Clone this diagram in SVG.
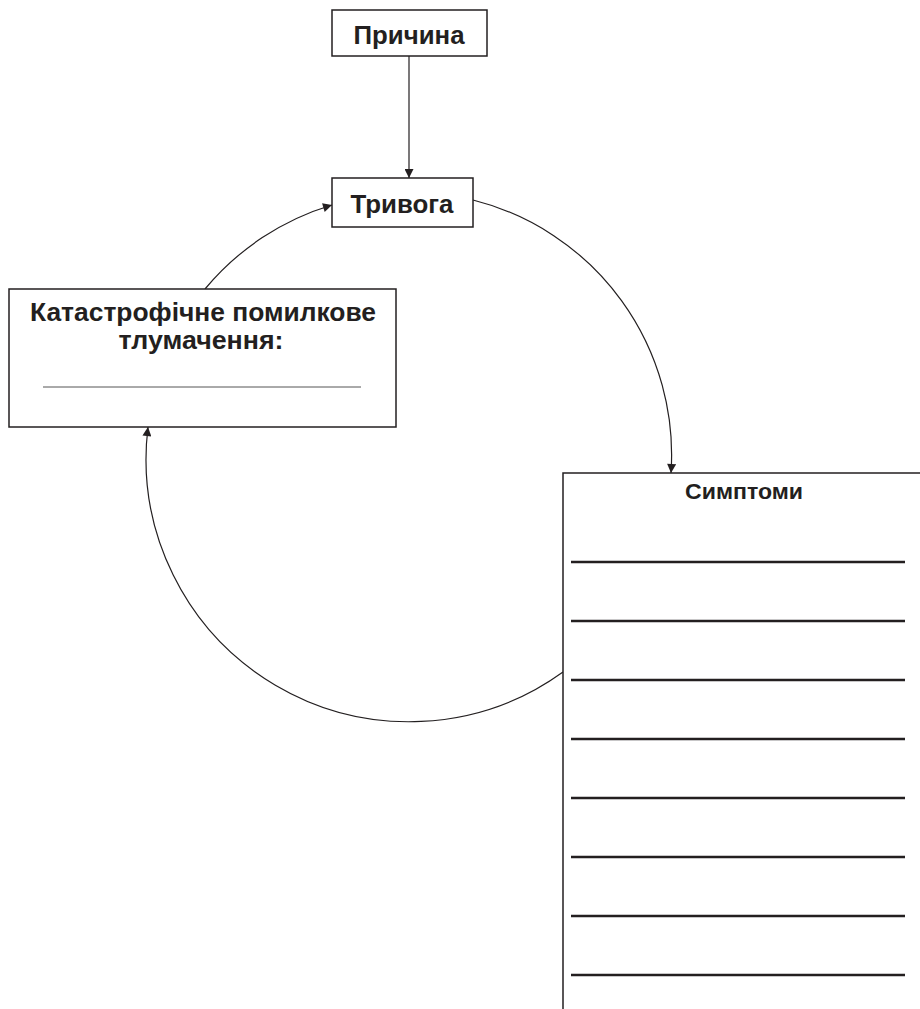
<svg xmlns="http://www.w3.org/2000/svg" width="920" height="1009" viewBox="0 0 920 1009">
<style>
.box{fill:#fff;stroke:#231f20;stroke-width:1.5}
.t{font-family:"Liberation Sans",Arial,sans-serif;font-weight:bold;fill:#231f20;text-anchor:middle}
.c{fill:none;stroke:#231f20;stroke-width:1.2}
.ln{stroke:#231f20;stroke-width:2.6}
</style>
<defs>
<marker id="ah" viewBox="0 0 10 10" refX="10" refY="5" markerWidth="11" markerHeight="9" markerUnits="userSpaceOnUse" orient="auto">
<path d="M0,0 L10,5 L0,10 Z" fill="#231f20"/>
</marker>
</defs>
<rect width="920" height="1009" fill="#fff"/>
<g id="connectors">
<line class="c" x1="409" y1="56" x2="409" y2="178" marker-end="url(#ah)"/>
<path class="c" d="M473,200 A263,263 0 0 1 671,473" marker-end="url(#ah)"/>
<path class="c" d="M563,672 A263,263 0 0 1 148,427" marker-end="url(#ah)"/>
<path class="c" d="M205,289 A263,263 0 0 1 332,205" marker-end="url(#ah)"/>
</g>
<g id="prychyna">
<rect class="box" x="332" y="10" width="155" height="46"/>
<text class="t" x="409" y="44" font-size="25" textLength="111" lengthAdjust="spacingAndGlyphs">Причина</text>
</g>
<g id="tryvoga">
<rect class="box" x="332" y="178" width="141" height="49"/>
<text class="t" x="402" y="213" font-size="25" textLength="103" lengthAdjust="spacingAndGlyphs">Тривога</text>
</g>
<g id="interpretation">
<rect class="box" x="9" y="289" width="387" height="138"/>
<text class="t" x="203" y="321" font-size="25" textLength="346" lengthAdjust="spacingAndGlyphs">Катастрофічне помилкове</text>
<text class="t" x="201" y="349" font-size="25" textLength="165" lengthAdjust="spacingAndGlyphs">тлумачення:</text>
<line x1="43" y1="387" x2="361" y2="387" stroke="#555" stroke-width="1"/>
</g>
<g id="symptoms">
<rect class="box" x="563" y="473" width="370" height="550"/>
<text class="t" x="744" y="499" font-size="22" textLength="118" lengthAdjust="spacingAndGlyphs">Симптоми</text>
<line class="ln" x1="571" y1="562" x2="905" y2="562"/>
<line class="ln" x1="571" y1="621" x2="905" y2="621"/>
<line class="ln" x1="571" y1="680" x2="905" y2="680"/>
<line class="ln" x1="571" y1="739" x2="905" y2="739"/>
<line class="ln" x1="571" y1="798" x2="905" y2="798"/>
<line class="ln" x1="571" y1="857" x2="905" y2="857"/>
<line class="ln" x1="571" y1="916" x2="905" y2="916"/>
<line class="ln" x1="571" y1="975" x2="905" y2="975"/>
</g>
</svg>
